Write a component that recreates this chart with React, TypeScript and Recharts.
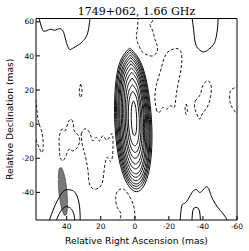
import React from 'react';
import { ComposedChart, Line, Area, XAxis, YAxis } from 'recharts';

type P = [number, number][];

const xTicks = [40, 20, 0, -20, -40, -60];
const yTicks = [-40, -20, 0, 20, 40, 60];
const xDomain: [number, number] = [-60, 58];
const yDomain: [number, number] = [-56.2, 61.9];

// Main source: positive contours (outer to inner), RA/Dec in mas
const core0: P = [[3.0,44.6],[9.9,32.3],[11.8,2.5],[7.6,-27.3],[-1.0,-39.6],[-8.4,-27.3],[-9.8,2.5],[-5.0,32.3],[3.0,44.6]];
const core1: P = [[2.9,43.4],[9.4,31.5],[11.2,2.7],[7.2,-26.1],[-0.9,-38.0],[-7.9,-26.1],[-9.2,2.7],[-4.7,31.5],[2.9,43.4]];
const core2: P = [[2.8,42.1],[8.9,30.6],[10.6,2.8],[6.8,-25.0],[-0.8,-36.5],[-7.4,-25.0],[-8.6,2.8],[-4.4,30.6],[2.8,42.1]];
const core3: P = [[2.6,40.5],[8.3,29.4],[9.9,2.7],[6.4,-24.0],[-0.8,-35.1],[-7.0,-24.0],[-8.1,2.7],[-4.1,29.4],[2.6,40.5]];
const core4: P = [[2.5,39.0],[7.8,28.4],[9.3,2.9],[6.0,-22.6],[-0.7,-33.2],[-6.5,-22.6],[-7.5,2.9],[-3.8,28.4],[2.5,39.0]];
const core5: P = [[2.4,37.2],[7.3,27.2],[8.7,3.0],[5.6,-21.2],[-0.6,-31.2],[-5.9,-21.2],[-6.9,3.0],[-3.4,27.2],[2.4,37.2]];
const core6: P = [[2.2,35.4],[6.7,25.9],[7.9,3.1],[5.1,-19.7],[-0.6,-29.2],[-5.4,-19.7],[-6.3,3.1],[-3.1,25.9],[2.2,35.4]];
const core7: P = [[2.0,33.0],[6.1,24.3],[7.2,3.4],[4.7,-17.6],[-0.4,-26.3],[-4.8,-17.6],[-5.6,3.4],[-2.8,24.3],[2.0,33.0]];
const core8: P = [[1.8,30.4],[5.4,22.5],[6.4,3.5],[4.1,-15.5],[-0.4,-23.4],[-4.3,-15.5],[-5.0,3.5],[-2.5,22.5],[1.8,30.4]];
const core9: P = [[1.6,27.0],[4.7,20.1],[5.6,3.5],[3.7,-13.2],[-0.2,-20.1],[-3.6,-13.2],[-4.2,3.5],[-2.0,20.1],[1.6,27.0]];
const core10: P = [[1.4,23.1],[4.0,17.3],[4.7,3.3],[3.1,-10.8],[-0.2,-16.6],[-3.0,-10.8],[-3.5,3.3],[-1.7,17.3],[1.4,23.1]];
const core11: P = [[1.2,19.3],[3.2,14.6],[3.8,3.3],[2.6,-8.0],[0.0,-12.7],[-2.2,-8.0],[-2.6,3.3],[-1.2,14.6],[1.2,19.3]];
const core12: P = [[0.8,13.6],[1.8,10.6],[2.1,3.4],[1.5,-3.8],[0.2,-6.8],[-0.9,-3.8],[-1.1,3.4],[-0.4,10.6],[0.8,13.6]];

// Other positive (solid) contours
const solidTopLeft: P = [[56.4,63],[54.3,55.6],[52.2,54.6],[49.3,55.6],[47.3,55.0],[45.4,55.6],[43.0,55.6],[41.4,52.6],[40.1,47.7],[38.5,43.9],[36.5,44.4],[32.5,46.8],[29.6,49.7],[27.6,53.6],[26.6,59.4],[26.2,63]];
const solidTopRight: P = [[-33.5,63],[-34.5,55.6],[-35.5,47.7],[-37.5,43.9],[-40.4,42.3],[-43.4,43.9],[-46.3,46.8],[-47.9,51.6],[-48.7,57.5],[-48.9,63]];
const solidBotLeftA: P = [[50.8,-58],[47.3,-48.8],[44.4,-42.9],[41.4,-39.0],[37.5,-38.6],[34.5,-40.9],[32.5,-47.8],[32.0,-58]];
const solidBotLeftB: P = [[46.6,-58],[44.4,-52.6],[41.4,-48.8],[38.5,-48.8],[36.1,-51.7],[35.0,-58]];
const solidBotRightA: P = [[-26.5,-58],[-27.6,-47.8],[-29.6,-46.2],[-32.5,-41.9],[-34.5,-39.0],[-36.5,-38.6],[-38.5,-40.0],[-41.4,-37.1],[-43.4,-37.8],[-44.8,-41.9],[-47.3,-46.8],[-50.3,-50.7],[-53.3,-54.6],[-54.6,-58]];
const solidBotRightB: P = [[-33.5,-58],[-34.1,-50.7],[-35.9,-48.8],[-37.9,-50.7],[-38.6,-58]];

// Negative (dashed) contours
const dashTop: P = [[-2.0,63],[-1.5,55.7],[-1.0,52.6],[-1.4,48.7],[-4.0,42.9],[-6.5,40.9],[-9.9,39.9],[-12.8,41.9],[-13.2,45.8],[-11.8,49.7],[-10.5,54.6],[-8.9,58.5],[-10.1,59.8],[-10.7,63]];
const dashRightBig: P = [[-12.8,7.8],[-11.8,15.6],[-12.8,23.4],[-14.8,30.2],[-16.7,37.0],[-18.8,41.7],[-22.7,44.0],[-26.6,43.3],[-27.6,37.0],[-26.6,29.2],[-24.7,19.5],[-23.7,11.7],[-22.7,9.7],[-20.7,10.7],[-18.8,8.8],[-16.4,9.7],[-14.4,6.8],[-12.8,7.8]];
const dashSmallRight: P = [[-30.2,11.7],[-30.9,8.7],[-30.2,5.7],[-29.5,8.7],[-30.2,11.7]];
const dashRight: P = [[-35.5,13.6],[-38.5,17.5],[-39.5,21.4],[-42.4,25.3],[-44.8,22.4],[-44.4,15.6],[-42.4,9.7],[-39.5,5.8],[-38.0,2.9],[-36.5,5.8],[-35.1,9.7],[-35.5,13.6]];
const dashEdgeRight: P = [[-61,22.8],[-59.2,21.4],[-56.2,19.5],[-55.8,13.6],[-57.2,9.7],[-59.2,6.8],[-61,5.2]];
const dashEdgeLeft: P = [[59,17],[58.2,14.6],[57.2,5.8],[56.2,0],[54.3,-5.8],[53.8,-13.7],[54.6,-16.6],[56.2,-13.7],[57.8,-9.8],[59,-7.2]];
const dashSmallLeft: P = [[31.8,23.4],[31.0,19.5],[31.8,15.6],[32.6,19.5],[31.8,23.4]];
const dashLeftBlob: P = [[43.4,-3.9],[42.4,-2.9],[40.8,-3.9],[39.5,0],[37.5,2.9],[36.1,0],[35.5,-3.9],[33.0,-6.8],[32.5,-10.8],[34.5,-14.6],[36.9,-15.6],[38.5,-14.6],[40.4,-18.5],[42.4,-21.5],[44.0,-18.5],[44.4,-12.7],[44.4,-7.8],[43.4,-3.9]];
const dashMidBlob: P = [[31.5,-5.8],[29.6,-2.9],[26.6,-4.9],[24.7,-9.8],[22.7,-7.8],[20.7,-9.8],[18.7,-6.8],[16.4,-9.4],[13.8,-5.8],[12.8,-8.8],[13.2,-19.5],[14.8,-21.5],[16.4,-19.5],[17.8,-25.4],[18.8,-33.2],[20.7,-37.1],[23.7,-38.0],[26.6,-35.1],[27.6,-26.3],[29.6,-16.6],[30.9,-11.7],[31.5,-5.8]];
const dashBottom: P = [[9.5,-58],[8.2,-52.6],[10.3,-48.8],[11.2,-42.9],[9.9,-39.0],[6.9,-38.0],[4.0,-40.9],[1.0,-46.8],[0,-52.6],[-0.4,-58]];

// Restoring beam (filled ellipse), lower-left corner
const beamX = [39.5, 39.8, 40.4, 41.2, 42.2, 43.2, 44.0, 44.6, 44.9];
const beamLow = [-47.0, -51.4, -53.3, -53.45, -51.7, -48.2, -43.8, -38.8, -32.8];
const beamHigh = [-46.2, -40.2, -35.2, -30.8, -27.3, -25.55, -25.7, -27.6, -32.0];

const core: P[] = [core0, core1, core2, core3, core4, core5, core6, core7, core8, core9, core10, core11, core12];
const solid: P[] = [solidTopLeft, solidTopRight, solidBotLeftA, solidBotLeftB, solidBotRightA, solidBotRightB];
const dashed: P[] = [dashTop, dashRightBig, dashSmallRight, dashRight, dashEdgeRight, dashEdgeLeft,
  dashSmallLeft, dashLeftBlob, dashMidBlob, dashBottom];

const toData = (pts: P) => pts.map(([x, y]) => ({ x, y }));
const beamData = beamX.map((x, i) => ({ x, r: [beamLow[i], beamHigh[i]] }));

const tickStyle = { fill: '#000', fontSize: 7.5 };

export default function App() {
  return (
    <div style={{ position: 'absolute', left: 0, top: 0, width: 249, height: 251, background: '#fff', fontFamily: '"DejaVu Sans", sans-serif' }}>
      <ComposedChart width={249} height={251} margin={{ top: 0, right: 0, bottom: 0, left: 0 }}>
        <XAxis xAxisId="b" orientation="bottom" type="number" dataKey="x" domain={xDomain} reversed allowDataOverflow
          ticks={xTicks} interval={0} height={31} tickSize={-4} tickMargin={7.5} tick={tickStyle}
          axisLine={{ stroke: '#000' }} tickLine={{ stroke: '#000' }} />
        <XAxis xAxisId="t" orientation="top" type="number" dataKey="x" domain={xDomain} reversed allowDataOverflow
          ticks={xTicks} interval={0} height={18.5} tickSize={-4} tick={false}
          axisLine={{ stroke: '#000' }} tickLine={{ stroke: '#000' }} />
        <YAxis yAxisId="l" orientation="left" type="number" dataKey="y" domain={yDomain} allowDataOverflow
          ticks={yTicks} interval={0} width={36} tickSize={-4} tickMargin={6} tick={tickStyle}
          axisLine={{ stroke: '#000' }} tickLine={{ stroke: '#000' }} />
        <YAxis yAxisId="r" orientation="right" type="number" dataKey="y" domain={yDomain} allowDataOverflow
          ticks={yTicks} interval={0} width={12} tickSize={-4} tick={false}
          axisLine={{ stroke: '#000' }} tickLine={{ stroke: '#000' }} />
        <Area xAxisId="b" yAxisId="l" data={beamData} dataKey="r" type="monotone" stroke="#333" strokeWidth={0.7}
          fill="#7a7a7a" fillOpacity={1} dot={false} activeDot={false} isAnimationActive={false} />
        {core.map((c, i) => (
          <Line key={'c' + i} xAxisId="b" yAxisId="l" data={toData(c)} dataKey="y" type="natural" stroke="#000"
            strokeWidth={0.95} dot={false} activeDot={false} isAnimationActive={false} />
        ))}
        {solid.map((c, i) => (
          <Line key={'s' + i} xAxisId="b" yAxisId="l" data={toData(c)} dataKey="y" type="natural" stroke="#000"
            strokeWidth={1} dot={false} activeDot={false} isAnimationActive={false} />
        ))}
        {dashed.map((c, i) => (
          <Line key={'d' + i} xAxisId="b" yAxisId="l" data={toData(c)} dataKey="y" type="natural" stroke="#000"
            strokeWidth={0.9} strokeDasharray="3 2" dot={false} activeDot={false} isAnimationActive={false} />
        ))}
      </ComposedChart>
      <svg width={249} height={251} style={{ position: 'absolute', left: 0, top: 0, pointerEvents: 'none' }}>
        <text x={136.5} y={14.5} textAnchor="middle" fontFamily='"DejaVu Serif", serif' fontSize={11} fill="#000">1749+062, 1.66 GHz</text>
        <text x={136.5} y={243.5} textAnchor="middle" fontFamily='"DejaVu Sans", sans-serif' fontSize={9.2} fill="#000">Relative Right Ascension (mas)</text>
        <text x={13} y={119.25} transform="rotate(-90 13 119.25)" textAnchor="middle" fontFamily='"DejaVu Sans", sans-serif' fontSize={9.2} fill="#000">Relative Declination (mas)</text>
      </svg>
    </div>
  );
}
